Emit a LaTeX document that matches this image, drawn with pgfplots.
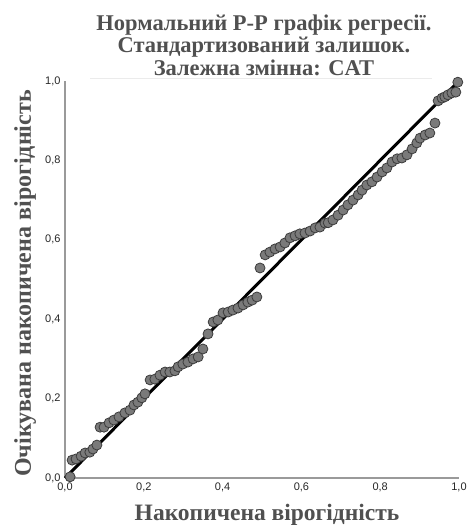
\documentclass[border=0pt]{standalone}
\usepackage{fontspec}
\setmainfont{Liberation Serif}
\newfontfamily\tickfont{Liberation Sans}
\usepackage{pgfplots}
\pgfplotsset{compat=1.18}
\definecolor{txtgray}{HTML}{505050}
\definecolor{axgray}{HTML}{9A9A9A}
\definecolor{ptfill}{HTML}{7A7A7A}
\definecolor{ptedge}{HTML}{3C3C3C}

\pgfplotstableread{
x y
0.013 0.003
0.018 0.045
0.028 0.048
0.041 0.055
0.051 0.063
0.063 0.065
0.071 0.073
0.081 0.083
0.089 0.128
0.099 0.128
0.112 0.139
0.124 0.146
0.137 0.154
0.152 0.164
0.165 0.171
0.175 0.184
0.185 0.191
0.195 0.202
0.203 0.212
0.216 0.247
0.228 0.249
0.241 0.259
0.254 0.267
0.266 0.267
0.279 0.270
0.287 0.280
0.299 0.287
0.312 0.292
0.325 0.300
0.338 0.305
0.350 0.325
0.363 0.363
0.376 0.393
0.388 0.398
0.401 0.416
0.414 0.418
0.426 0.423
0.439 0.428
0.452 0.436
0.464 0.443
0.475 0.448
0.487 0.456
0.495 0.529
0.508 0.562
0.520 0.569
0.533 0.577
0.546 0.582
0.558 0.592
0.571 0.605
0.584 0.610
0.596 0.615
0.609 0.617
0.622 0.622
0.635 0.630
0.647 0.632
0.660 0.642
0.668 0.643
0.680 0.650
0.693 0.662
0.706 0.675
0.718 0.688
0.731 0.700
0.744 0.713
0.754 0.725
0.766 0.738
0.779 0.746
0.792 0.758
0.805 0.771
0.817 0.781
0.830 0.796
0.843 0.804
0.855 0.806
0.868 0.814
0.881 0.829
0.893 0.844
0.901 0.856
0.914 0.864
0.926 0.869
0.939 0.894
0.947 0.950
0.957 0.957
0.964 0.960
0.972 0.965
0.982 0.970
0.992 0.972
0.997 0.997
}\pp

\begin{document}
\begin{tikzpicture}
\begin{axis}[
    name=ax,
    scale only axis,
    width=394bp, height=397bp,
    xmin=0, xmax=1, ymin=0, ymax=1,
    enlargelimits=false,
    clip=false,
    axis lines=left,
    axis line style={-, axgray, line width=1.5bp},
    xtick={0,0.2,...,1}, ytick={0,0.2,...,1},
    major tick length=0pt,
    tick label style={font=\tickfont\fontsize{11bp}{13bp}\selectfont, text=black!85},
    /pgf/number format/.cd, fixed, fixed zerofill, precision=1, use comma, assume math mode=true,
    /pgfplots/.cd,
    xticklabel style={yshift=-1bp},
    yticklabel style={xshift=-1bp},
]
\addplot[only marks, mark=*, mark size=5bp,
    mark options={fill=ptfill, draw=ptedge, line width=0.8bp}] table {\pp};
\addplot[black, line width=3bp] coordinates {(0,0) (1,1)};

\draw[black!8, line width=0.8bp] ([xshift=25bp,yshift=3bp]rel axis cs:0,1) -- ([xshift=-27bp,yshift=3bp]rel axis cs:1,1);
\node[anchor=south, inner sep=0pt, align=center, text=txtgray,
      font=\bfseries\fontsize{22.5bp}{22.5bp}\selectfont]
      at ([xshift=2bp,yshift=5bp]rel axis cs:0.5,1)
      {Нормальний P-P графік регресії.\\Стандартизований залишок.\\Залежна змінна: CAT};
\node[anchor=base, inner sep=0pt, text=txtgray,
      font=\bfseries\fontsize{23.5bp}{24bp}\selectfont]
      at ([xshift=5bp,yshift=-42bp]rel axis cs:0.5,0) {Накопичена вірогідність};
\node[anchor=base, rotate=90, inner sep=0pt, text=txtgray,
      font=\bfseries\fontsize{24bp}{24bp}\selectfont]
      at ([xshift=-34bp,yshift=-4bp]rel axis cs:0,0.5) {Очікувана накопичена вірогідність};
\end{axis}
\pgfresetboundingbox
\path[use as bounding box] ([xshift=-65bp,yshift=-47bp]ax.south west) rectangle ([xshift=13bp,yshift=81bp]ax.north east);
\end{tikzpicture}
\end{document}
